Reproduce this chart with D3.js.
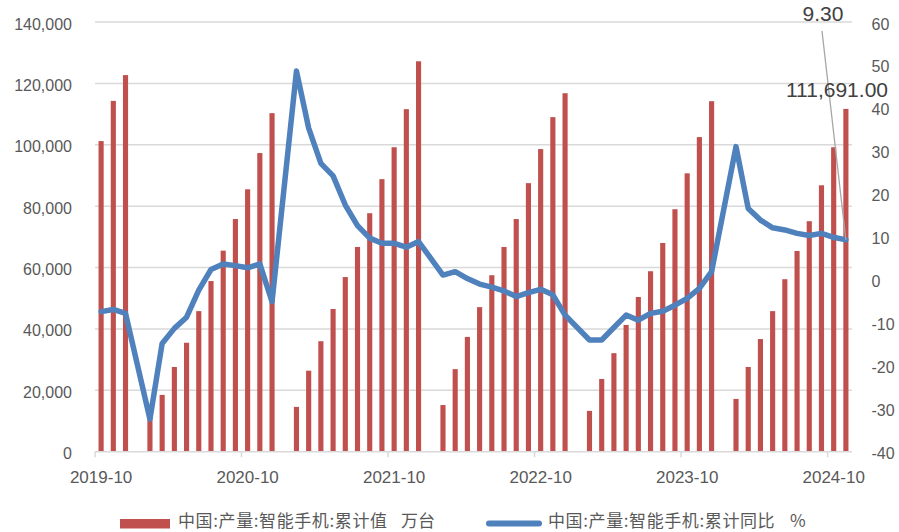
<!DOCTYPE html>
<html>
<head>
<meta charset="utf-8">
<script src="https://cdn.jsdelivr.net/npm/d3@7"></script>
<style>
  html, body { margin: 0; padding: 0; background: #fff; }
  svg { display: block; }
</style>
</head>
<body>
<svg id="chart" width="899" height="532"></svg>
<script>
// ---- data ----
const months = [
  "2019-10","2019-11","2019-12",
  "2020-01","2020-02","2020-03","2020-04","2020-05","2020-06","2020-07","2020-08","2020-09","2020-10","2020-11","2020-12",
  "2021-01","2021-02","2021-03","2021-04","2021-05","2021-06","2021-07","2021-08","2021-09","2021-10","2021-11","2021-12",
  "2022-01","2022-02","2022-03","2022-04","2022-05","2022-06","2022-07","2022-08","2022-09","2022-10","2022-11","2022-12",
  "2023-01","2023-02","2023-03","2023-04","2023-05","2023-06","2023-07","2023-08","2023-09","2023-10","2023-11","2023-12",
  "2024-01","2024-02","2024-03","2024-04","2024-05","2024-06","2024-07","2024-08","2024-09","2024-10","2024-11"
];
const production = [
  101200, 114300, 122700,
  null, 12000, 18500, 27600, 35500, 45800, 55600, 65500, 75800, 85500, 97300, 110300,
  null, 14600, 26400, 36000, 46500, 56900, 66700, 77700, 88800, 99200, 111600, 127200,
  null, 15200, 26900, 37400, 47100, 57500, 66700, 75800, 87500, 98600, 109000, 116800,
  null, 13300, 23700, 32100, 41300, 50400, 58800, 68000, 79000, 90700, 102500, 114200,
  null, 17200, 27600, 36700, 45800, 56200, 65400, 75100, 86800, 99200, 111691
];
const yoy = [
  -7.4, -6.9, -7.8,
  null, -32.4, -14.8, -11.3, -8.7, -2.4, 2.4, 3.7, 3.3, 2.8, 3.7, -5.1,
  null, 48.6, 35.3, 27.1, 24.2, 17.4, 12.6, 9.7, 8.5, 8.5, 7.6, 8.9,
  null, 1.1, 1.9, 0.3, -1.0, -1.7, -2.6, -3.9, -3.0, -2.2, -3.5, -8.2,
  null, -14.0, -14.0, -11.1, -8.2, -9.4, -7.8, -7.3, -5.9, -4.3, -2.0, 1.9,
  null, 31.0, 16.6, 13.9, 12.1, 11.6, 10.8, 10.3, 10.8, 9.9, 9.3
];
const xTickLabels = ["2019-10","2020-10","2021-10","2022-10","2023-10","2024-10"];
const leftTicks = [0, 20000, 40000, 60000, 80000, 100000, 120000, 140000];
const rightTicks = [-40, -30, -20, -10, 0, 10, 20, 30, 40, 50, 60];
const legendNames = ["中国:产量:智能手机:累计值", "中国:产量:智能手机:累计同比"];
const legendUnits = ["万台", "%"];
const lastBarLabel = "111,691.00";
const lastLineLabel = "9.30";

// ---- layout ----
const plot = { left: 95, right: 852, top: 22, bottom: 451.7 };
const barColor = "#c0504d", lineColor = "#4f81bd", gridColor = "#d9d9d9", textColor = "#595959";
const font = "'Liberation Sans', Arial, sans-serif";
const cjkFont = "'Noto Sans CJK SC', 'Liberation Sans', sans-serif";

const svg = d3.select("#chart");

const x = d3.scaleBand().domain(months).range([plot.left, plot.right])
  .paddingInner(0.58).paddingOuter(0.29);
const yL = d3.scaleLinear().domain([0, 140000]).range([plot.bottom, plot.top]);
const yR = d3.scaleLinear().domain([-40, 60]).range([plot.bottom, plot.top]);
const cx = m => x(m) + x.bandwidth() / 2;

// gridlines
svg.append("g").selectAll("line").data(leftTicks.filter(d => d > 0)).join("line")
  .attr("x1", plot.left).attr("x2", plot.right)
  .attr("y1", d => yL(d)).attr("y2", d => yL(d))
  .attr("stroke", gridColor).attr("stroke-width", 1.5);

// left axis labels
svg.append("g").selectAll("text").data(leftTicks).join("text")
  .attr("x", 72).attr("y", d => yL(d) + 7.5)
  .attr("text-anchor", "end")
  .attr("font-family", font).attr("font-size", 16).attr("fill", textColor)
  .text(d => d3.format(",")(d));

// right axis labels
svg.append("g").selectAll("text").data(rightTicks).join("text")
  .attr("x", 871.5).attr("y", d => yR(d) + 7.5)
  .attr("text-anchor", "start")
  .attr("font-family", font).attr("font-size", 16).attr("fill", textColor)
  .text(d => d);

// bars
const barData = months.map((m, i) => ({ m, v: production[i] })).filter(d => d.v != null);
svg.append("g").selectAll("rect").data(barData).join("rect")
  .attr("x", d => x(d.m)).attr("width", x.bandwidth())
  .attr("y", d => yL(d.v)).attr("height", d => yL(0) - yL(d.v))
  .attr("fill", barColor);

// x axis line + ticks
svg.append("line")
  .attr("x1", plot.left).attr("x2", plot.right)
  .attr("y1", plot.bottom).attr("y2", plot.bottom)
  .attr("stroke", gridColor).attr("stroke-width", 1.5);
const tickX = m => x(m) - x.step() * x.paddingInner() / 2;
svg.append("g").selectAll("line").data(xTickLabels).join("line")
  .attr("x1", d => tickX(d)).attr("x2", d => tickX(d))
  .attr("y1", plot.bottom).attr("y2", plot.bottom + 5.5)
  .attr("stroke", gridColor).attr("stroke-width", 1.5);
svg.append("g").selectAll("text").data(xTickLabels).join("text")
  .attr("x", d => cx(d)).attr("y", 483)
  .attr("text-anchor", "middle")
  .attr("font-family", font).attr("font-size", 17).attr("fill", textColor)
  .text(d => d);

// line
const lineData = months.map((m, i) => ({ m, v: yoy[i] })).filter(d => d.v != null);
svg.append("path").datum(lineData)
  .attr("d", d3.line().x(d => cx(d.m)).y(d => yR(d.v)))
  .attr("fill", "none").attr("stroke", lineColor)
  .attr("stroke-width", 5.5).attr("stroke-linejoin", "round").attr("stroke-linecap", "round");

// annotations
const last = lineData[lineData.length - 1];
svg.append("line")
  .attr("x1", 822).attr("y1", 31)
  .attr("x2", cx(last.m)).attr("y2", yR(last.v))
  .attr("stroke", "#a6a6a6").attr("stroke-width", 1.3);
svg.append("text").attr("x", 823).attr("y", 21).attr("text-anchor", "middle")
  .attr("font-family", font).attr("font-size", 21).attr("fill", "#404040")
  .text(lastLineLabel);
svg.append("text").attr("x", 888).attr("y", 97).attr("text-anchor", "end")
  .attr("font-family", font).attr("font-size", 21).attr("fill", "#404040")
  .text(lastBarLabel);

// legend
const lg = svg.append("g");
const legY = 527;
lg.append("rect").attr("x", 120).attr("y", 519).attr("width", 50).attr("height", 9.5).attr("fill", barColor);
lg.append("text").attr("x", 178).attr("y", legY).attr("letter-spacing", 0.6)
  .attr("font-family", cjkFont).attr("font-size", 17).attr("fill", textColor)
  .text(legendNames[0]);
lg.append("text").attr("x", 401).attr("y", legY)
  .attr("font-family", cjkFont).attr("font-size", 17).attr("fill", textColor)
  .text(legendUnits[0]);
lg.append("line").attr("x1", 489).attr("x2", 539).attr("y1", 523.5).attr("y2", 523.5)
  .attr("stroke", lineColor).attr("stroke-width", 6).attr("stroke-linecap", "round");
lg.append("text").attr("x", 548).attr("y", legY).attr("letter-spacing", 0.6)
  .attr("font-family", cjkFont).attr("font-size", 17).attr("fill", textColor)
  .text(legendNames[1]);
lg.append("text").attr("x", 790).attr("y", legY)
  .attr("font-family", cjkFont).attr("font-size", 17).attr("fill", textColor)
  .text(legendUnits[1]);
</script>
</body>
</html>
